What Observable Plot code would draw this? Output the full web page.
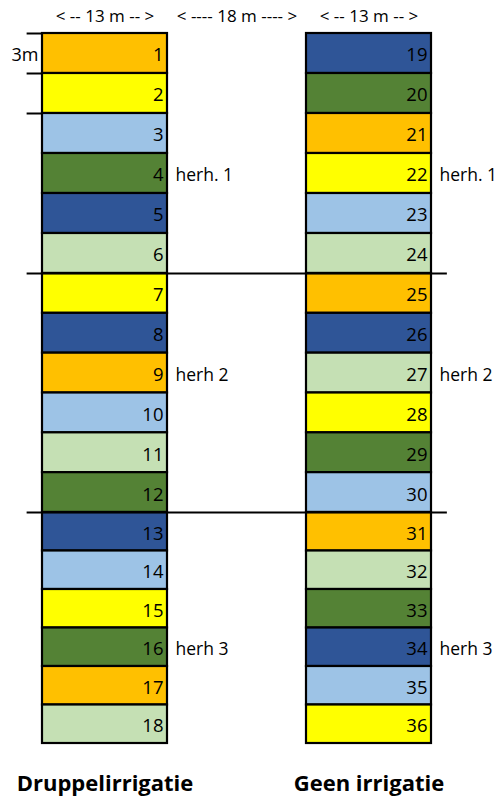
<!DOCTYPE html>
<html><head><meta charset="utf-8">
<script src="https://cdn.jsdelivr.net/npm/d3@7"></script>
<script src="https://cdn.jsdelivr.net/npm/@observablehq/plot@0.6"></script>
<style>body{margin:0;background:#fff}</style>
</head><body><div id="chart"></div>
<script>
// ---- data ----
const treatments = ["Druppelirrigatie", "Geen irrigatie"];
const plotNumbers = d3.range(1, 37);
const varieties = [
  "A","B","C","D","E","F","B","E","A","C","F","D","E","C","B","D","A","F",
  "E","D","A","B","C","F","A","E","F","B","D","C","A","F","D","E","C","B"
];
const varietyDomain = ["A","B","C","D","E","F"];
const varietyColors = ["#FFC000","#FFFF00","#9DC3E6","#548235","#2F5597","#C5E0B4"];
const widthLabels = ["< -- 13 m -- >", "< ---- 18 m ---- >", "< -- 13 m -- >"];
const widthMeters = [13, 18, 13];
const plotLengthLabel = "3m";
const repPlots = [4, 9, 16, 22, 27, 34];
const repLabels = ["herh. 1", "herh 2", "herh 3", "herh. 1", "herh 2", "herh 3"];
const repBoundaries = [6, 12];
const rowsPerColumn = 18;

// ---- derived tables ----
const colStart = [0, widthMeters[0] + widthMeters[1]];
const plots = plotNumbers.map((n, i) => {
  const col = Math.floor(i / rowsPerColumn);
  return {n, col, row: i % rowsPerColumn, v: varieties[i],
          x1: colStart[col], x2: colStart[col] + widthMeters[col === 0 ? 0 : 2]};
});
const reps = repPlots.map((p, i) => ({...plots[p - 1], label: repLabels[i]}));
const headers = widthLabels.map((t, i) => {
  const start = d3.sum(widthMeters.slice(0, i));
  return {t, x: start + widthMeters[i] / 2};
});
const titles = treatments.map((t, i) => ({t, x: colStart[i] + widthMeters[i * 2] / 2}));
const total = d3.sum(widthMeters);

const font = "'Open Sans', 'Liberation Sans', sans-serif";

const chart = Plot.plot({
  width: 504,
  height: 799,
  margin: 0,
  style: {fontFamily: font, background: "#fff"},
  x: {type: "linear", domain: [0, widthMeters[0], colStart[1], total], range: [42, 167, 306, 431], axis: null},
  y: {type: "linear", domain: [0, ...repBoundaries, rowsPerColumn], range: [33, 273, 512, 743], axis: null},
  color: {domain: varietyDomain, range: varietyColors},
  marks: [
    Plot.rect(plots, {x1: "x1", x2: "x2", y1: "row", y2: d => d.row + 1, fill: "v", stroke: "#000", strokeWidth: 2.2}),
    Plot.text(plots, {x: "x2", y: d => d.row + 0.5, text: "n", textAnchor: "end", dx: -4, dy: 2, fontSize: 18.5, fill: "#000"}),
    Plot.ruleY(repBoundaries, {x1: -1.6, x2: total + 1.65, stroke: "#000", strokeWidth: 2}),
    Plot.ruleY([0, 1, 2], {x1: -1.6, x2: 0, stroke: "#000", strokeWidth: 2}),
    Plot.text([plotLengthLabel], {x: 0, y: 0.5, text: d => d, textAnchor: "end", dx: -4, dy: 2, fontSize: 18, fill: "#000"}),
    Plot.text(reps, {x: "x2", y: d => d.row + 0.5, text: "label", textAnchor: "start", dx: 8, dy: 2, fontSize: 17.5, fill: "#000"}),
    Plot.text(headers, {x: "x", y: 0, text: "t", dy: -17, fontSize: 17, fill: "#000"}),
    Plot.text(titles, {x: "x", y: rowsPerColumn, text: "t", dy: 40, fontSize: 22, fontWeight: "bold", fill: "#000"})
  ]
});
document.getElementById("chart").appendChild(chart);
</script>
</body></html>
